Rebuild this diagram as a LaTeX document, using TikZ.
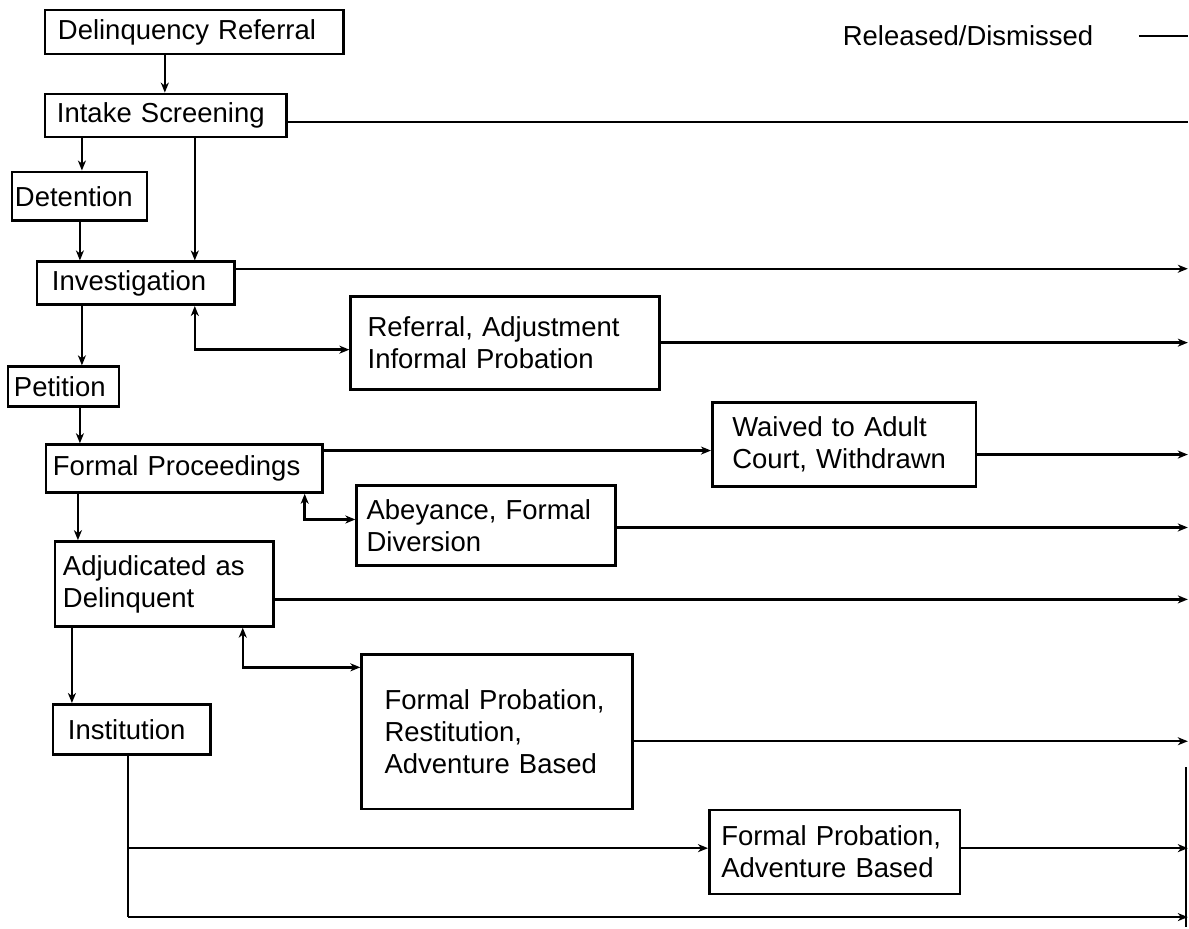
\documentclass[tikz,border=0pt]{standalone}
\usepackage{fontspec}
\setmainfont{Liberation Sans}
\usetikzlibrary{arrows.meta}
\begin{document}
\begin{tikzpicture}[x=1pt,y=-1pt,
  txt/.style={font=\fontsize{27.5}{32}\selectfont},
  box/.style={txt, draw, line width=2.6pt, inner ysep=0pt, align=left},
  con/.style={line width=2.4pt},
  tip/.tip={Stealth[length=10pt,width=8pt,inset=3pt]},
  arr/.style={con, -tip},
  barr/.style={con, tip-tip}]
\fill[white] (0,0) rectangle (1189,928);
\coordinate (edge) at (1189,0);
% boxes
\node[box, minimum width=299pt, minimum height=44pt, text width=273pt, inner xsep=13pt] (dr) at (194.5,32) {Delinquency Referral};
\node[box, minimum width=242pt, minimum height=43pt, text width=218pt, inner xsep=12pt] (is) at (166,115.5) {Intake Screening};
\node[box, minimum width=135pt, minimum height=49pt, text width=129pt, inner xsep=3pt] (det) at (79.5,196.5) {Detention};
\node[box, minimum width=198pt, minimum height=43pt, text width=168pt, inner xsep=15pt] (inv) at (136,283.5) {Investigation};
\node[box, minimum width=309pt, minimum height=93pt, text width=275pt, inner xsep=17pt] (rai) at (505.5,343.5) {Referral, Adjustment\\Informal Probation};
\node[box, minimum width=111pt, minimum height=40pt, text width=99pt, inner xsep=6pt] (pet) at (63.5,387) {Petition};
\node[box, minimum width=277pt, minimum height=48pt, text width=263pt, inner xsep=7pt] (fp) at (184.5,469) {Formal Proceedings};
\node[box, minimum width=264pt, minimum height=84pt, text width=224pt, inner xsep=20pt] (wav) at (845,445) {Waived to Adult\\Court, Withdrawn};
\node[box, minimum width=259pt, minimum height=80pt, text width=239pt, inner xsep=10pt] (abe) at (486.5,526) {Abeyance, Formal\\Diversion};
\node[box, minimum width=219pt, minimum height=85pt, text width=203pt, inner xsep=8pt] (adj) at (164.5,584.5) {Adjudicated as\\Delinquent};
\node[box, minimum width=158pt, minimum height=50pt, text width=128pt, inner xsep=15pt] (inst) at (132,730) {Institution};
\node[box, minimum width=271pt, minimum height=155pt, text width=225pt, inner xsep=23pt] (fpra) at (497.5,732.5) {Formal Probation,\\Restitution,\\Adventure Based};
\node[box, minimum width=251pt, minimum height=84pt, text width=227pt, inner xsep=12pt] (fpab) at (835.5,853) {Formal Probation,\\Adventure Based};
\node[txt, inner sep=0pt] (rel) at (969,36) {Released/Dismissed};
% vertical flow
\draw[arr] (dr.south -| 165,0) -- (is.north -| 165,0);
\draw[arr] (is.south -| 82,0) -- (det.north -| 82,0);
\draw[arr] (is.south -| 195,0) -- (inv.north -| 195,0);
\draw[arr] (det.south -| 80,0) -- (inv.north -| 80,0);
\draw[arr] (inv.south -| 82,0) -- (pet.north -| 82,0);
\draw[arr] (pet.south -| 80,0) -- (fp.north -| 80,0);
\draw[arr] (fp.south -| 78,0) -- (adj.north -| 78,0);
\draw[arr] (adj.south -| 72,0) -- (inst.north -| 72,0);
% side branches
\draw[barr] (inv.south -| 195,0) |- (rai.west |- 0,350);
\draw[barr] (fp.south -| 305,0) |- (abe.west |- 0,520);
\draw[barr] (adj.south -| 243,0) |- (fpra.west |- 0,668);
\draw[arr] (fp.east |- 0,451) -- (wav.west |- 0,451);
% exits to the right
\draw[con] (rel.east -| 1140,0) -- (rel.east -| edge);
\draw[con] (is.east |- 0,122) -- (edge |- 0,122);
\draw[arr] (inv.east |- 0,269) -- (edge |- 0,269);
\draw[arr] (rai.east |- 0,343) -- (edge |- 0,343);
\draw[arr] (wav.east |- 0,455) -- (edge |- 0,455);
\draw[arr] (abe.east |- 0,528) -- (edge |- 0,528);
\draw[arr] (adj.east |- 0,600) -- (edge |- 0,600);
\draw[arr] (fpra.east |- 0,742) -- (edge |- 0,742);
\draw[arr] (fpab.east |- 0,849) -- (edge |- 0,849);
% institution outlets
\coordinate (ib) at (128,918);
\coordinate (ibr) at (128,849);
\draw[con] (inst.south -| ib) -- (ib);
\draw[arr] (ib) -- (ib -| edge);
\draw[arr] (ibr) -- (fpab.west |- ibr);
\coordinate (vr1) at (1187,768);
\coordinate (vr2) at (1187,928);
\draw[con] (vr1) -- (vr2);
\end{tikzpicture}
\end{document}
